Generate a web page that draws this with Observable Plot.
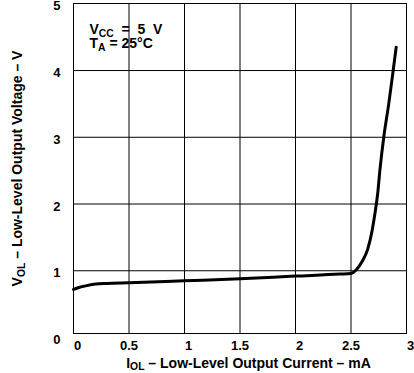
<!DOCTYPE html>
<html><head><meta charset="utf-8">
<script src="https://cdn.jsdelivr.net/npm/d3@7"></script>
<script src="https://cdn.jsdelivr.net/npm/@observablehq/plot@0.6"></script>
<style>body{margin:0;background:#fff} svg{display:block}</style>
</head><body><div id="chart"></div>
<script>
// Data
const iol = [0, 0.05, 0.1, 0.2, 0.3, 0.5, 1, 1.5, 2, 2.4, 2.5, 2.55, 2.6, 2.65, 2.69, 2.715, 2.74, 2.76, 2.795, 2.84, 2.88, 2.907];
const vol = [0.72, 0.75, 0.77, 0.80, 0.81, 0.82, 0.85, 0.88, 0.92, 0.95, 0.96, 1.02, 1.14, 1.32, 1.6, 1.85, 2.15, 2.5, 3.0, 3.5, 4.0, 4.35];
const xTicks = [0, 0.5, 1, 1.5, 2, 2.5, 3];
const yTicks = [0, 1, 2, 3, 4, 5];
const xGrid = [0.5, 1, 1.5, 2, 2.5];
const yGrid = [1, 2, 3, 4];
const xTitle = "IOL – Low-Level Output Current – mA";
const yTitle = "VOL – Low-Level Output Voltage – V";
const note1 = "VCC = 5 V";
const note2 = "TA = 25°C";

const rich = {
  [xTitle]: [["I"], ["OL", 1], [" – Low-Level Output Current – mA"]],
  [yTitle]: [["V"], ["OL", 1], [" – Low-Level Output Voltage – V"]],
  [note1]: [["V"], ["CC", 1], ["  =  5  V"]],
  [note2]: [["T"], ["A", 1], [" = 25°C"]]
};

const data = iol.map((x, i) => ({x, y: vol[i]}));
const font = "'Liberation Sans', Arial, Helvetica, sans-serif";

const chart = Plot.plot({
  width: 414,
  height: 373,
  marginLeft: 73,
  marginRight: 8,
  marginTop: 3,
  marginBottom: 40,
  style: {fontFamily: font, fontWeight: "bold", background: "#fff", overflow: "visible"},
  x: {domain: [0, 3], axis: null},
  y: {domain: [0, 5], range: [337, 3.3], axis: null},
  marks: [
    Plot.ruleX(xGrid, {stroke: "#000", strokeWidth: 1}),
    Plot.ruleY(yGrid, {stroke: "#000", strokeWidth: 1}),
    Plot.frame({stroke: "#000", strokeWidth: 1}),
    Plot.line(data, {x: "x", y: "y", stroke: "#000", strokeWidth: 3, curve: "monotone-x"}),
    Plot.text(xTicks.filter(d => !Number.isInteger(d)), {x: d => d, frameAnchor: "bottom", dy: 16, fontSize: 13, fontWeight: "bold", fill: "#000"}),
    Plot.text(xTicks.filter(d => Number.isInteger(d)), {x: d => d, frameAnchor: "bottom", dy: 16, dx: 4, fontSize: 13, fontWeight: "bold", fill: "#000"}),
    Plot.text(yTicks, {y: d => d, frameAnchor: "left", dx: -13, dy: 2.5, textAnchor: "end", fontSize: 13, fontWeight: "bold", fill: "#000"}),
    Plot.text([xTitle], {frameAnchor: "bottom", dy: 34, dx: 8.5, textAnchor: "middle", fontSize: 14, fontWeight: "bold", fill: "#000"}),
    Plot.text([yTitle], {frameAnchor: "left", dx: -56, rotate: -90, textAnchor: "middle", fontSize: 14, fontWeight: "bold", fill: "#000"}),
    Plot.text([note1], {frameAnchor: "top-left", dx: 16, dy: 26.5, textAnchor: "start", lineAnchor: "middle", fontSize: 14, fontWeight: "bold", fill: "#000"}),
    Plot.text([note2], {frameAnchor: "top-left", dx: 16, dy: 40, textAnchor: "start", lineAnchor: "middle", fontSize: 14, fontWeight: "bold", fill: "#000"})
  ]
});

// Rebuild rich texts with subscripts
d3.select(chart).selectAll("text").each(function() {
  const t = this.textContent;
  const spec = rich[t];
  if (!spec) return;
  const sel = d3.select(this);
  sel.text(null).attr("xml:space", "preserve").style("white-space", "pre");
  let shifted = false;
  spec.forEach(([s, sub]) => {
    const ts = sel.append("tspan").text(s);
    if (sub && !shifted) { ts.attr("dy", "0.25em").attr("font-size", "0.74em"); shifted = true; }
    else if (!sub && shifted) { ts.attr("dy", "-0.185em"); shifted = false; }
  });
});

document.getElementById("chart").appendChild(chart);
</script>
</body></html>
